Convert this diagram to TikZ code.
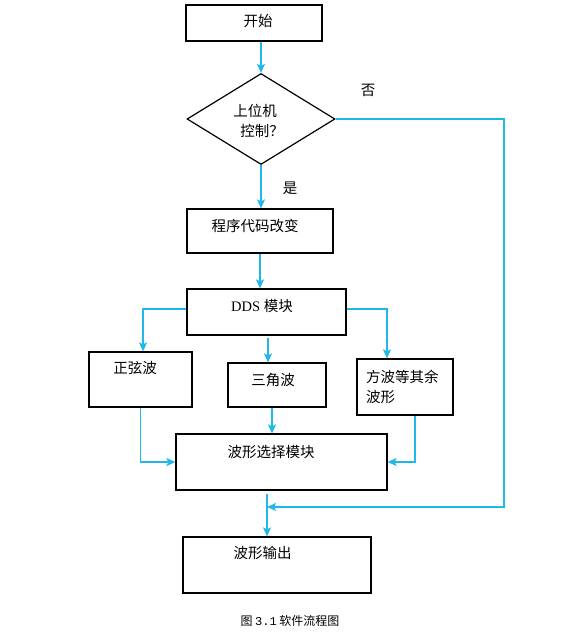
\documentclass[tikz,border=0pt]{standalone}
\usepackage{fontspec}
\setmainfont{Liberation Serif}
\newfontfamily\cjkfont{Noto Sans CJK SC}
\usetikzlibrary{shapes.geometric,arrows.meta}
\definecolor{flowblue}{RGB}{32,184,232}
\tikzset{
  box/.style={draw, line width=1.2pt, inner sep=0pt, minimum width=#1},
  box/.default=100pt,
  decbox/.style={draw, diamond, line width=1.2pt, inner sep=0pt},
  lbl/.style={font=\cjkfont\fontsize{14.5}{18}\selectfont, inner sep=0pt},
  flow/.style={draw=flowblue, line width=1.4pt, -{Stealth[length=9pt,width=8pt,inset=2pt]}},
}
\begin{document}
\begin{tikzpicture}[x=1pt,y=-1pt]
				\useasboundingbox (0,0) rectangle (579,637);
				% boxes
				\node[box=136pt, minimum height=36pt] (start) at (254,23) {};
				\node[decbox, minimum width=148pt, minimum height=91pt] (dec) at (261,119) {};
				\node[box=146pt, minimum height=44pt] (prog) at (260,231) {};
				\node[box=159pt, minimum height=46pt] (dds) at (266.5,312) {};
				\node[box=103pt, minimum height=55pt] (sine) at (140.5,379.5) {};
				\node[box=98pt, minimum height=44pt] (tri) at (277,385) {};
				\node[box=96pt, minimum height=56pt] (sq) at (405,387) {};
				\node[box=211pt, minimum height=56pt] (sel) at (281.5,462) {};
				\node[box=188pt, minimum height=56pt] (out) at (277,565) {};
				
				% texts
				\node[lbl] (tstart) at (258,21) {开始};
				\node[lbl] (tdec1) at (255,111) {上位机};
				\node[lbl] (tdec2) at (262,131) {控制？};
				\node[lbl] (tno) at (368,90) {否};
				\node[lbl] (tyes) at (290,188) {是};
				\node[lbl] (tprog) at (255,226) {程序代码改变};
				\node[lbl] (tdds) at (262,306) {\fontspec{Liberation Serif}DDS \cjkfont 模块};
				\node[lbl] (tsine) at (135,368) {正弦波};
				\node[lbl] (ttri) at (273,380) {三角波};
				\node[lbl, anchor=west] (tsq1) at (366,377) {方波等其余};
				\node[lbl, anchor=west] (tsq2) at (366,397) {波形};
				\node[lbl] (tsel) at (271,452) {波形选择模块};
				\node[lbl] (tout) at (262.5,553) {波形输出};
				\node[font=\cjkfont\fontsize{12}{14}\selectfont, inner sep=0pt] (cap) at (290,621)
				  {图 {\fontspec{Liberation Mono}3.1} 软件流程图};
				
				% connectors
				\coordinate (join) at (267,507);
				\coordinate (corner) at (504,507);
				\draw[flow] (dec.north |- start.south) -- (dec.north);
				\draw[flow] (dec.south) -- (dec.south |- prog.north);
				\draw[flow] (prog.south) -- (prog.south |- dds.north);
				\draw[flow] ([yshift=3pt]dds.west) -| ([xshift=2.5pt]sine.north);
				\draw[flow] ([xshift=-9pt,yshift=-2pt]tri.north |- dds.south) -- ([xshift=-9pt]tri.north);
				\draw[flow] ([yshift=3pt]dds.east) -| ([xshift=-18pt]sq.north);
				\draw[flow] (sine.south) |- (sel.west);
				\draw[flow] ([xshift=-5pt]tri.south) -- ([xshift=-5pt]tri.south |- sel.north);
				\draw[flow] ([xshift=10pt]sq.south) |- (sel.east);
				\draw[flow] ([yshift=-3pt]sel.south -| join) -- (out.north -| join);
				\draw[flow] (dec.east) -| (corner) -- (join);
			\end{tikzpicture}
\end{document}
